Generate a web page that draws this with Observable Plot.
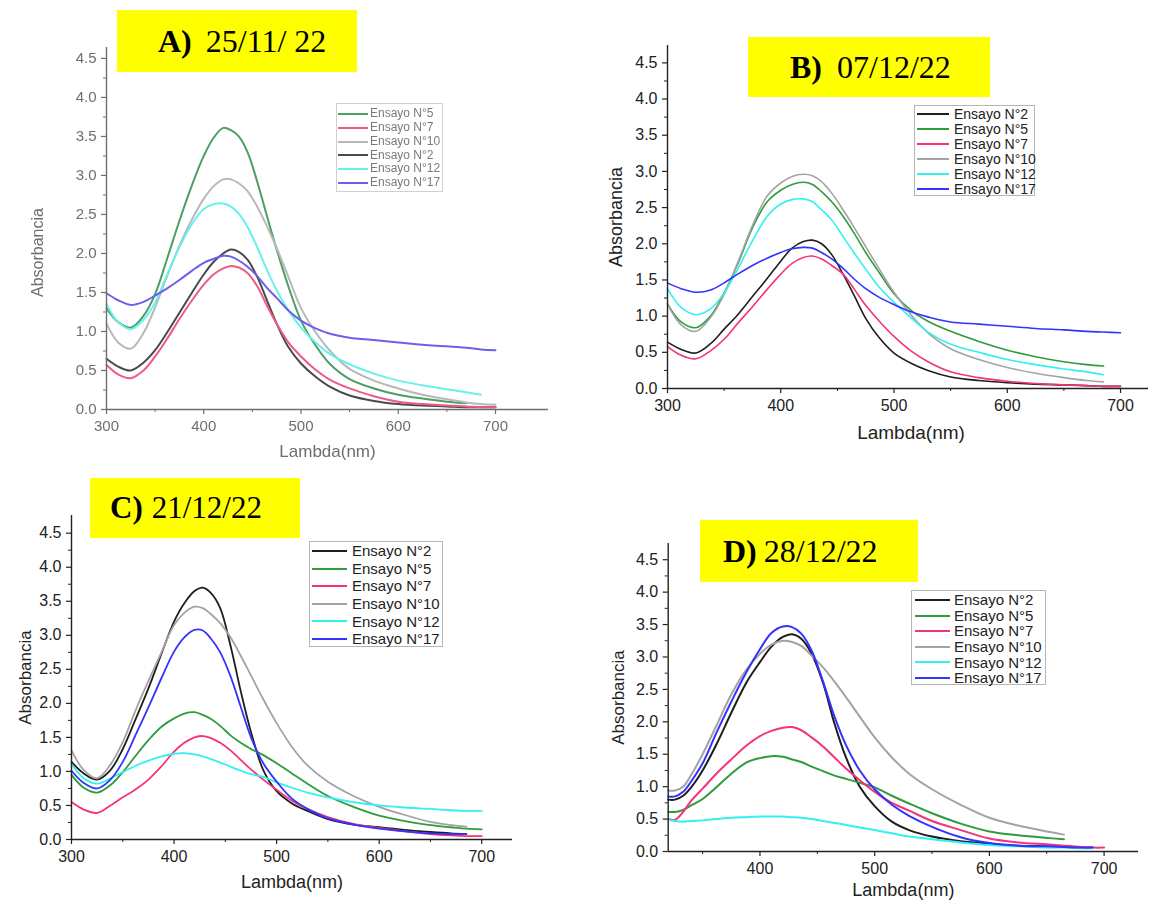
<!DOCTYPE html>
<html>
<head>
<meta charset="utf-8">
<script src="https://cdn.jsdelivr.net/npm/d3@7"></script>
<script src="https://cdn.jsdelivr.net/npm/@observablehq/plot@0.6"></script>
<style>
  html, body { margin: 0; padding: 0; background: #fff; }
  #root { position: relative; width: 1151px; height: 902px; background: #fff; overflow: hidden; }
  .panel { position: absolute; }
  .tag { position: absolute; background: #ffff00; display: flex; align-items: center; box-sizing: border-box;
         font-family: "Liberation Serif", "Times New Roman", serif; color: #000; white-space: pre; }
  .legend { position: absolute; box-sizing: border-box; border: 1px solid #b5b5b5; background: #fff;
            font-family: "Liberation Sans", Arial, sans-serif; }
  .legend .sw { position: absolute; height: 2px; }
  .legend .tx { position: absolute; white-space: nowrap; }
</style>
</head>
<body>
<div id="root"></div>
<script>
// ---------------- DATA ----------------
const SERIES = ["Ensayo N°2", "Ensayo N°5", "Ensayo N°7", "Ensayo N°10", "Ensayo N°12", "Ensayo N°17"];
const LEGEND_ORDER_A = ["Ensayo N°5", "Ensayo N°7", "Ensayo N°10", "Ensayo N°2", "Ensayo N°12", "Ensayo N°17"];
const LEGEND_ORDER = ["Ensayo N°2", "Ensayo N°5", "Ensayo N°7", "Ensayo N°10", "Ensayo N°12", "Ensayo N°17"];

const PANEL_TITLES = [["A)", "25/11/ 22"], ["B)", "07/12/22"], ["C)", "21/12/22"], ["D)", "28/12/22"]];

const Y_MAJOR = [0, 0.5, 1, 1.5, 2, 2.5, 3, 3.5, 4, 4.5];
const Y_MINOR = [0.25, 0.75, 1.25, 1.75, 2.25, 2.75, 3.25, 3.75, 4.25];
const X_MAJOR = [300, 400, 500, 600, 700];
const X_MAJOR_D = [400, 500, 600, 700];
const X_MINOR = [350, 450, 550, 650];

// wavelength grid (nm) for panels A, B, C
const GRID = [300,312,325,338,350,362,375,388,400,410,420,428,436,445,455,465,475,487,500,515,530,550,575,600,625,650,670,685,700];
// wavelength grid (nm) for panel D
const GRID_D = [320,326,333,340,350,362,375,388,400,410,420,428,436,445,455,465,475,487,500,515,530,550,575,600,625,650,665,680,690,700];

// Panel A — 25/11/22
const A_N2  = [0.65,0.55,0.50,0.60,0.76,0.98,1.24,1.50,1.73,1.89,2.00,2.05,2.02,1.92,1.70,1.40,1.10,0.80,0.59,0.42,0.29,0.18,0.11,0.07,0.05,0.04,0.03,0.03,0.03];
const A_N5  = [1.30,1.12,1.05,1.20,1.48,1.92,2.42,2.88,3.25,3.48,3.61,3.58,3.50,3.30,2.92,2.48,2.05,1.58,1.14,0.82,0.58,0.39,0.27,0.19,0.14,0.10,0.08,null,null];
const A_N7  = [0.57,0.45,0.40,0.50,0.68,0.90,1.16,1.40,1.60,1.73,1.81,1.84,1.82,1.75,1.58,1.33,1.10,0.86,0.68,0.51,0.38,0.27,0.17,0.10,0.07,0.05,0.04,0.03,0.03];
const A_N10 = [1.10,0.86,0.78,0.98,1.31,1.70,2.10,2.44,2.70,2.86,2.95,2.95,2.90,2.80,2.60,2.35,2.07,1.70,1.30,0.99,0.75,0.52,0.37,0.27,0.19,0.13,0.09,0.07,0.06];
const A_N12 = [1.35,1.12,1.03,1.15,1.37,1.72,2.08,2.38,2.57,2.63,2.64,2.60,2.51,2.34,2.08,1.79,1.53,1.27,1.05,0.86,0.71,0.58,0.46,0.37,0.31,0.26,0.22,0.19,null];
const A_N17 = [1.49,1.40,1.34,1.38,1.46,1.55,1.66,1.78,1.88,1.93,1.97,1.96,1.91,1.83,1.71,1.56,1.43,1.27,1.14,1.04,0.97,0.92,0.89,0.86,0.83,0.81,0.79,0.77,0.76];

// Panel B — 07/12/22
const B_N2  = [0.64,0.54,0.49,0.62,0.82,1.02,1.27,1.52,1.76,1.94,2.03,2.05,2.00,1.85,1.58,1.28,0.97,0.70,0.49,0.35,0.25,0.16,0.11,0.08,0.06,0.05,0.04,0.03,0.03];
const B_N5  = [1.17,0.92,0.84,1.00,1.32,1.72,2.22,2.58,2.74,2.82,2.85,2.82,2.72,2.58,2.38,2.14,1.88,1.60,1.31,1.08,0.93,0.79,0.65,0.53,0.44,0.37,0.33,0.31,null];
const B_N7  = [0.58,0.46,0.41,0.52,0.68,0.90,1.13,1.37,1.58,1.73,1.81,1.83,1.79,1.70,1.58,1.37,1.15,0.93,0.72,0.52,0.37,0.23,0.15,0.10,0.07,0.05,0.04,0.03,0.03];
const B_N10 = [1.17,0.88,0.79,0.98,1.30,1.74,2.25,2.66,2.84,2.93,2.96,2.94,2.86,2.70,2.47,2.22,1.96,1.65,1.33,1.02,0.77,0.55,0.40,0.29,0.21,0.15,0.11,0.09,null];
const B_N12 = [1.38,1.12,1.02,1.10,1.32,1.65,2.04,2.38,2.55,2.61,2.62,2.58,2.47,2.33,2.10,1.87,1.65,1.40,1.19,0.98,0.78,0.61,0.50,0.40,0.33,0.27,0.23,0.19,null];
const B_N17 = [1.46,1.38,1.33,1.36,1.46,1.58,1.70,1.80,1.88,1.93,1.95,1.94,1.88,1.79,1.66,1.51,1.38,1.26,1.16,1.06,0.99,0.92,0.89,0.86,0.83,0.81,0.79,0.78,0.77];

// Panel C — 21/12/22
const C_N2  = [1.14,0.97,0.88,1.02,1.33,1.75,2.22,2.74,3.20,3.47,3.65,3.70,3.62,3.40,2.85,2.18,1.58,1.02,0.71,0.53,0.42,0.30,0.22,0.18,0.14,0.11,0.09,0.08,null];
const C_N5  = [0.95,0.76,0.69,0.80,0.99,1.22,1.46,1.66,1.78,1.85,1.87,1.83,1.77,1.67,1.53,1.42,1.33,1.24,1.12,0.97,0.82,0.64,0.48,0.35,0.27,0.21,0.18,0.16,0.15];
const C_N7  = [0.55,0.44,0.39,0.50,0.62,0.73,0.88,1.08,1.29,1.42,1.50,1.52,1.49,1.42,1.31,1.17,1.03,0.88,0.73,0.57,0.45,0.33,0.23,0.17,0.12,0.08,0.06,0.05,0.05];
const C_N10 = [1.31,1.02,0.90,1.10,1.43,1.88,2.33,2.76,3.15,3.33,3.42,3.40,3.31,3.18,2.97,2.70,2.41,2.06,1.71,1.36,1.09,0.85,0.64,0.48,0.36,0.26,0.21,0.19,null];
const C_N12 = [1.11,0.90,0.82,0.90,0.99,1.08,1.16,1.22,1.26,1.27,1.25,1.22,1.18,1.13,1.07,1.01,0.96,0.92,0.84,0.76,0.69,0.62,0.55,0.50,0.47,0.45,0.43,0.42,0.42];
const C_N17 = [1.01,0.83,0.75,0.88,1.14,1.52,1.94,2.38,2.76,2.97,3.08,3.07,2.95,2.75,2.40,1.95,1.50,1.12,0.85,0.60,0.45,0.31,0.22,0.16,0.12,0.09,0.08,0.08,null];

// Panel D — 28/12/22
const D_N2  = [0.80,0.80,0.86,0.99,1.25,1.65,2.14,2.60,2.92,3.16,3.31,3.35,3.28,3.05,2.60,1.97,1.45,1.00,0.70,0.46,0.33,0.23,0.16,0.12,0.09,0.08,0.07,0.06,0.06,null];
const D_N5  = [0.61,0.61,0.64,0.71,0.81,0.99,1.20,1.37,1.44,1.47,1.46,1.42,1.38,1.31,1.24,1.17,1.12,1.06,0.99,0.86,0.74,0.59,0.43,0.31,0.25,0.21,0.19,null,null,null];
const D_N7  = [0.50,0.49,0.61,0.78,0.97,1.20,1.42,1.63,1.78,1.86,1.91,1.92,1.87,1.76,1.62,1.45,1.28,1.10,0.92,0.75,0.63,0.47,0.33,0.20,0.14,0.11,0.09,0.07,0.06,0.06];
const D_N10 = [0.94,0.94,1.00,1.18,1.50,1.94,2.42,2.80,3.05,3.19,3.25,3.23,3.17,3.02,2.84,2.62,2.38,2.08,1.76,1.45,1.20,0.96,0.72,0.52,0.40,0.31,0.26,null,null,null];
const D_N12 = [0.49,0.47,0.46,0.47,0.48,0.50,0.52,0.53,0.54,0.54,0.54,0.53,0.52,0.50,0.47,0.44,0.41,0.37,0.33,0.28,0.23,0.19,0.14,0.10,0.08,0.06,0.06,0.05,0.05,null];
const D_N17 = [0.85,0.85,0.92,1.08,1.36,1.83,2.31,2.76,3.12,3.37,3.47,3.46,3.36,3.10,2.62,2.08,1.64,1.25,0.96,0.72,0.55,0.38,0.22,0.13,0.09,0.08,0.07,0.06,0.06,null];

// colours (same order as SERIES)
const COLORS = ["#1e1e1e", "#2e9b3e", "#f5337a", "#a3a3a3", "#33f0f0", "#3333ff"];
const COLORS_A = ["#4a4a4a", "#4c9e62", "#ec5a86", "#b8b8b8", "#66f2ea", "#6a60ee"];

// ---------------- BUILD ----------------
function tidy(grid, arrays) {
  const rows = [];
  arrays.forEach((vals, k) => {
    vals.forEach((v, i) => rows.push({x: grid[i], y: v, s: SERIES[k]}));
  });
  return rows;
}

const root = document.getElementById("root");

function panel(cfg) {
  const svg = Plot.plot({
    width: cfg.width,
    height: cfg.height,
    marginLeft: cfg.ml, marginRight: cfg.mr, marginTop: cfg.mt, marginBottom: cfg.mb,
    x: {domain: cfg.xDomain},
    y: {domain: cfg.yDomain},
    color: {domain: SERIES, range: cfg.colors},
    style: {fontFamily: "'Liberation Sans', Arial, sans-serif", fontSize: cfg.fs + "px", color: cfg.axisColor, background: "transparent", overflow: "visible"},
    marks: [
      Plot.line(cfg.rows, {x: "x", y: "y", z: "s", stroke: "s", strokeWidth: cfg.sw, curve: "catmull-rom"}),
      Plot.ruleX([cfg.xDomain[0]], {stroke: cfg.axisColor, strokeWidth: 1.4}),
      Plot.ruleY([0], {stroke: cfg.axisColor, strokeWidth: 1.4}),
      Plot.axisY({ticks: Y_MAJOR, tickSize: 5, tickPadding: 5, tickFormat: d3.format(".1f"), label: null, strokeWidth: 1.2}),
      Plot.axisY({ticks: Y_MINOR, tickSize: 3, tickFormat: () => "", label: null}),
      Plot.axisX({ticks: cfg.xMajor, tickSize: 5, tickPadding: 6, tickFormat: d => String(d), label: null, strokeWidth: 1.2}),
      Plot.axisX({ticks: X_MINOR, tickSize: 3, tickFormat: () => "", label: null}),
      Plot.text(["Absorbancia"], {text: d => d, frameAnchor: "left", textAnchor: "middle", lineAnchor: "middle", rotate: -90, dx: cfg.ylab[0], dy: cfg.ylab[1], fontSize: cfg.lfs, fill: cfg.axisColor}),
      Plot.text(["Lambda(nm)"], {text: d => d, frameAnchor: "bottom", textAnchor: "middle", dx: cfg.xlab[0], dy: cfg.xlab[1], fontSize: cfg.lfs + 1, fill: cfg.axisColor})
    ]
  });
  svg.classList.add("panel");
  svg.style.left = cfg.left + "px";
  svg.style.top = cfg.top + "px";
  if (cfg.blur) svg.style.filter = "blur(" + cfg.blur + "px)";
  root.appendChild(svg);
}

function tag(t, box, padLeft, gap, fs) {
  const d = document.createElement("div");
  d.className = "tag";
  d.style.left = box[0] + "px"; d.style.top = box[1] + "px";
  d.style.width = box[2] + "px"; d.style.height = box[3] + "px";
  d.style.paddingLeft = padLeft + "px";
  d.style.fontSize = fs + "px";
  const b = document.createElement("b"); b.textContent = t[0];
  const s = document.createElement("span"); s.textContent = t[1]; s.style.marginLeft = gap + "px";
  d.appendChild(b); d.appendChild(s);
  root.appendChild(d);
}

function legend(cfg) {
  const d = document.createElement("div");
  d.className = "legend";
  d.style.left = cfg.box[0] + "px"; d.style.top = cfg.box[1] + "px";
  d.style.width = cfg.box[2] + "px"; d.style.height = cfg.box[3] + "px";
  d.style.fontSize = cfg.fs + "px";
  d.style.color = cfg.textColor;
  if (cfg.blur) d.style.filter = "blur(" + cfg.blur + "px)";
  if (cfg.borderColor) d.style.borderColor = cfg.borderColor;
  cfg.order.forEach((name, i) => {
    const c = cfg.first + i * cfg.step;
    const sw = document.createElement("div");
    sw.className = "sw";
    sw.style.left = cfg.line[0] + "px";
    sw.style.width = (cfg.line[1] - cfg.line[0]) + "px";
    sw.style.top = (c - 1) + "px";
    sw.style.background = cfg.colors[SERIES.indexOf(name)];
    const tx = document.createElement("div");
    tx.className = "tx";
    tx.style.left = cfg.textX + "px";
    tx.style.top = (c - cfg.step / 2) + "px";
    tx.style.lineHeight = cfg.step + "px";
    tx.textContent = name;
    d.appendChild(sw); d.appendChild(tx);
  });
  root.appendChild(d);
}

// Panel A
panel({rows: tidy(GRID, [A_N2, A_N5, A_N7, A_N10, A_N12, A_N17]), colors: COLORS_A,
  left: 0, top: 0, width: 570, height: 470, ml: 106, mr: 22, mt: 47, mb: 61,
  xDomain: [300, 754.5], yDomain: [0, 4.64], xMajor: X_MAJOR, fs: 15, lfs: 16, sw: 2,
  axisColor: "#6e6e6e", ylab: [-69, 24], xlab: [0, 47], blur: 0.45});
// Panel B
panel({rows: tidy(GRID, [B_N2, B_N5, B_N7, B_N10, B_N12, B_N17]), colors: COLORS,
  left: 575, top: 0, width: 576, height: 460, ml: 92, mr: 3, mt: 45, mb: 72,
  xDomain: [300, 724.7], yDomain: [0, 4.74], xMajor: X_MAJOR, fs: 16, lfs: 18, sw: 1.6,
  axisColor: "#222", ylab: [-51, 0], xlab: [3, 50]});
// Panel C
panel({rows: tidy(GRID, [C_N2, C_N5, C_N7, C_N10, C_N12, C_N17]), colors: COLORS,
  left: 0, top: 465, width: 540, height: 437, ml: 71, mr: 28, mt: 50, mb: 63,
  xDomain: [300, 730], yDomain: [0, 4.76], xMajor: X_MAJOR, fs: 16, lfs: 17, sw: 1.8,
  axisColor: "#222", ylab: [-46, 0], xlab: [0, 48]});
// Panel D
panel({rows: tidy(GRID_D, [D_N2, D_N5, D_N7, D_N10, D_N12, D_N17]), colors: COLORS,
  left: 575, top: 505, width: 576, height: 397, ml: 92.7, mr: 13, mt: 38, mb: 51,
  xDomain: [320, 730], yDomain: [0, 4.75], xMajor: X_MAJOR_D, fs: 16, lfs: 17, sw: 2,
  axisColor: "#222", ylab: [-50, 0], xlab: [0, 44]});

// Title tags
tag(PANEL_TITLES[0], [117, 10, 240, 62], 41, 14, 32);
tag(PANEL_TITLES[1], [748, 37, 242, 60], 42, 15, 32);
tag(PANEL_TITLES[2], [90, 478, 210, 60], 20, 9, 31);
tag(PANEL_TITLES[3], [700, 520, 218, 62], 23, 7, 32);

// Legends
legend({box: [336, 103, 107, 89], first: 10, step: 13.8, line: [1, 31], textX: 33, fs: 12, textColor: "#7a7a7a",
  order: LEGEND_ORDER_A, colors: COLORS_A, blur: 0.45, borderColor: "#d0d0d0"});
legend({box: [914, 105, 121, 91], first: 8, step: 15, line: [2, 34], textX: 39, fs: 14, textColor: "#222",
  order: LEGEND_ORDER, colors: COLORS});
legend({box: [309, 541, 134, 106], first: 9, step: 17.6, line: [2, 37], textX: 42, fs: 15, textColor: "#222",
  order: LEGEND_ORDER, colors: COLORS});
legend({box: [911, 590, 135, 95], first: 9, step: 15.6, line: [3, 38], textX: 42, fs: 15, textColor: "#222",
  order: LEGEND_ORDER, colors: COLORS});
</script>
</body>
</html>
